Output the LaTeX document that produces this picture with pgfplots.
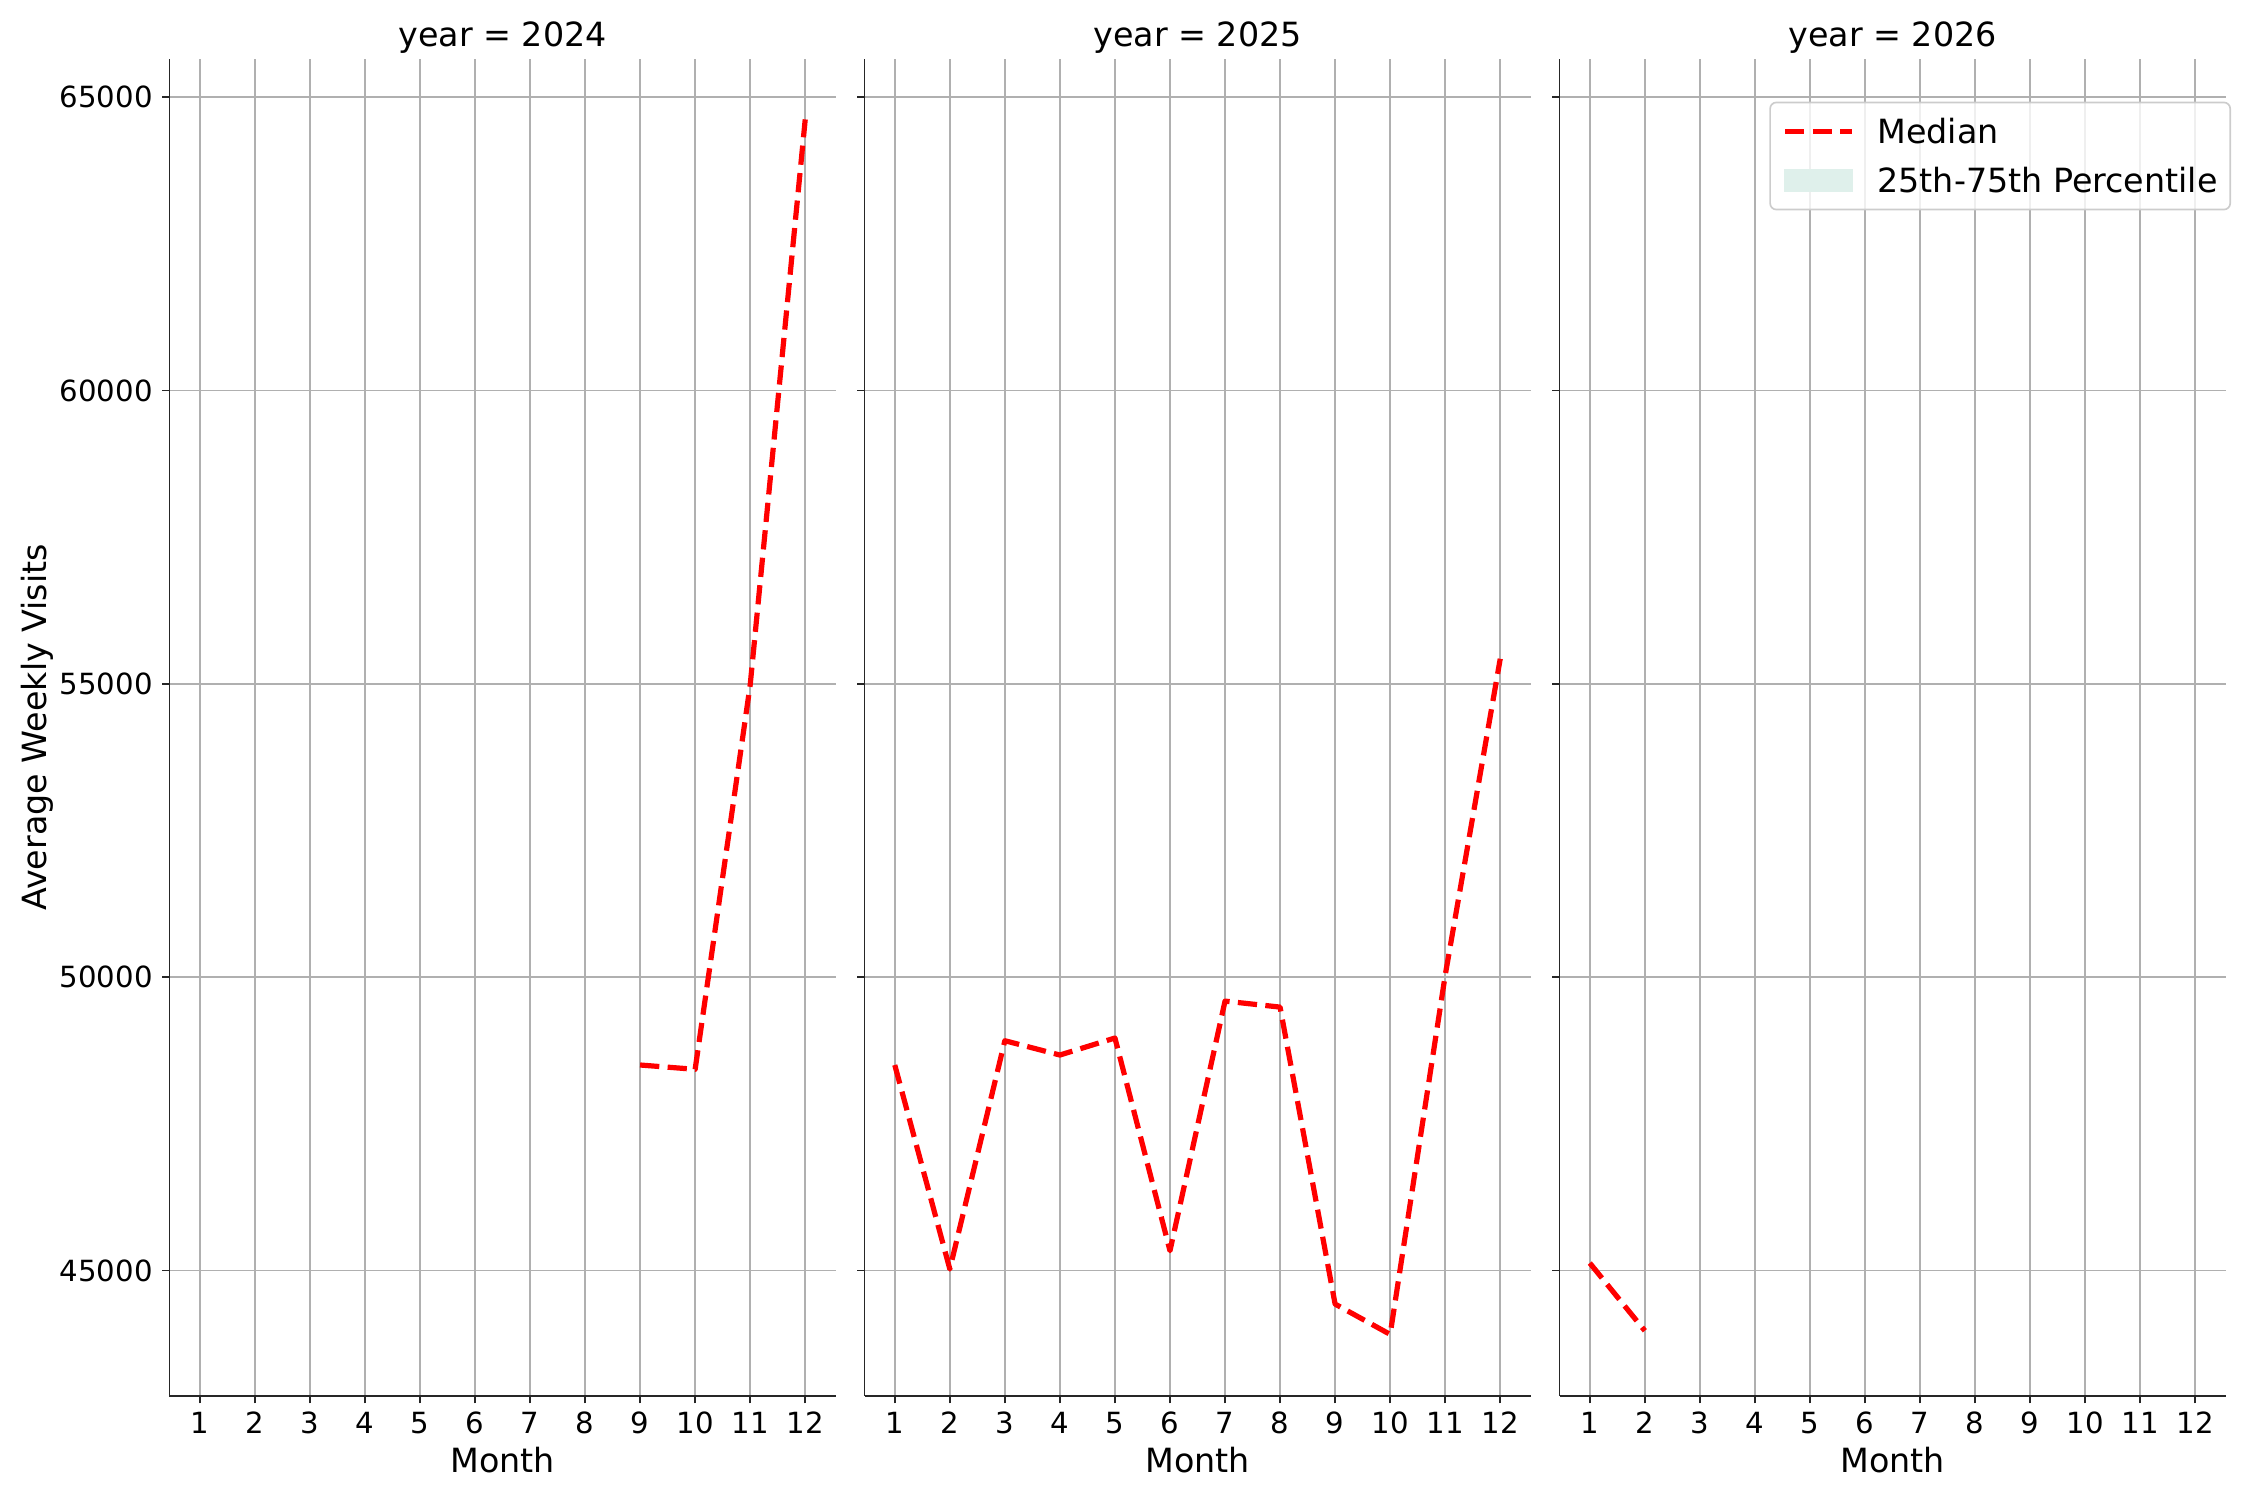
\documentclass[border=0pt]{standalone}
\usepackage{fontspec}
\setmainfont{DejaVu Sans}
\usepackage{pgfplots}
\pgfplotsset{compat=1.18}

\definecolor{spine}{HTML}{262626}
\definecolor{gridc}{HTML}{B0B0B0}
\definecolor{band}{RGB}{223,240,235}
\definecolor{legedge}{HTML}{CCCCCC}

% 1px of the 2250x1500 reference = 0.48pt
\pgfplotsset{
  facet/.style={
    scale only axis, width=319.68pt, height=641.9pt,
    anchor=south west,
    xmin=0.45, xmax=12.55, ymin=42860, ymax=65655,
    xtick={1,...,12}, ytick={45000,50000,55000,60000,65000},
    axis lines*=left,
    axis line style={spine, line width=0.8pt},
    tick align=outside, major tick length=3.5pt,
    tick style={spine, line width=0.8pt},
    grid=major, major grid style={gridc, line width=0.8pt},
    scaled y ticks=false,
    /pgf/number format/assume math mode=true,
    /pgf/number format/1000 sep={},
    ticklabel style={font=\fontsize{14}{16.8}\selectfont, inner sep=0pt},
    xticklabel shift=4pt, yticklabel shift=4.4pt,
    title style={font=\fontsize{16}{19.2}\selectfont, at={(axis description cs:0.5,1)},
      anchor=base, yshift=0pt, inner sep=0pt},
    xlabel=Month,
    xlabel style={font=\fontsize{16}{19.2}\selectfont, at={(axis description cs:0.5,0)},
      anchor=base, yshift=-36.8pt, inner sep=0pt},
  },
  median/.style={red, line width=2.5pt, dash pattern=on 9.25pt off 4pt, line join=round},
}

\begin{document}
\begin{tikzpicture}
\path[use as bounding box] (0,0) rectangle (1080pt,720pt);

% year = 2024
\begin{axis}[facet, at={(81.36pt,49.92pt)},
  title={year = 2024},
  ylabel={Average Weekly Visits},
  ylabel style={font=\fontsize{16}{19.2}\selectfont, at={(axis description cs:-0.1844,0.5)},
    anchor=base, inner sep=0pt},
]
\addplot[median] coordinates {
  (9,48502) (10,48428) (11,54980) (12,64620)
};
\end{axis}

% year = 2025
\begin{axis}[facet, at={(414.96pt,49.92pt)},
  title={year = 2025},
  yticklabels={},
]
\addplot[median] coordinates {
  (1,48502) (2,45024) (3,48916) (4,48672) (5,48962) (6,45336)
  (7,49591) (8,49489) (9,44427) (10,43910) (11,50030) (12,55426)
};
\end{axis}

% year = 2026
\begin{axis}[facet, at={(748.56pt,49.92pt)},
  title={year = 2026},
  yticklabels={},
  legend cell align=left,
  legend image code/.code={\draw[#1, sharp corners] (0pt,0pt) -- (32.2pt,0pt);},
  legend style={at={(axis description cs:1.0083,0.9679)}, anchor=north east,
    draw=legedge, line width=0.8pt, rounded corners=3pt,
    fill=white, fill opacity=0.8, draw opacity=1, text opacity=1,
    font=\fontsize{16}{19.2}\selectfont,
    inner xsep=6pt, inner ysep=5.4pt,
    row sep=6.4pt, column sep=10.8pt,
    nodes={inner sep=0pt, text height=14.4pt, text depth=2.7pt}},
]
\addplot[median] coordinates {
  (1,45126) (2,43972)
};
\addlegendentry{Median}
\addlegendimage{legend image code/.code={\fill[band, fill opacity=1, sharp corners] (0pt,-5.3pt) rectangle (32.2pt,5.3pt);}}
\addlegendentry{25th-75th Percentile}
\end{axis}
\end{tikzpicture}
\end{document}
